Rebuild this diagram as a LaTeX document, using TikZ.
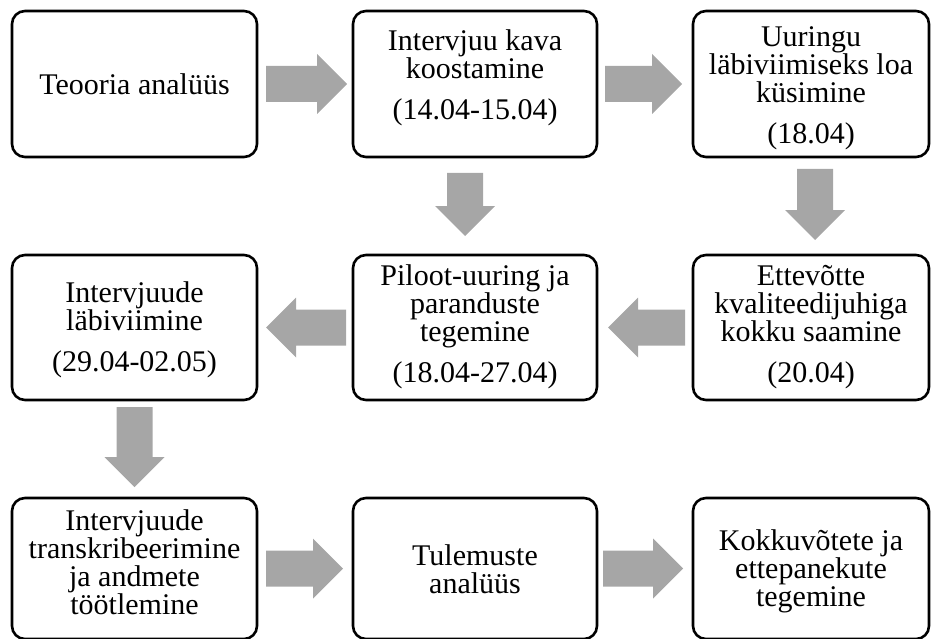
\documentclass[tikz,border=0pt]{standalone}
\usepackage{fontspec}
\setmainfont{Liberation Serif}
\usetikzlibrary{calc}
\definecolor{arrowgray}{RGB}{166,166,166}

% Block arrow from #1 to #2 (named coordinates): shaft half-width 18pt,
% head half-width 30pt, head length 30pt
\newcommand\blockarrow[2]{%
  \fill[arrowgray]
    ($(#1)!18pt!90:(#2)$) --
    ($(#2)!30pt!(#1)!18pt!90:(#2)$) --
    ($(#2)!30pt!(#1)!30pt!90:(#2)$) --
    (#2) --
    ($(#2)!30pt!(#1)!30pt!-90:(#2)$) --
    ($(#2)!30pt!(#1)!18pt!-90:(#2)$) --
    ($(#1)!18pt!-90:(#2)$) -- cycle;}

\tikzset{
  stagebox/.style={draw=black, line width=2.6pt, rounded corners=13pt,
    fill=white, inner sep=0pt, outer sep=0pt},
  stagetext/.style={align=center, inner sep=0pt, outer sep=0pt,
    font=\fontsize{30}{28}\selectfont, anchor=north},
}

\begin{document}
\begin{tikzpicture}[x=1pt, y=-1pt]
\useasboundingbox (0,0) rectangle (931,639);

% stage boxes
\node[stagebox, minimum width=245pt, minimum height=146pt] (b1) at (134.5,84) {};
\node[stagebox, minimum width=244pt, minimum height=146pt] (b2) at (475,84) {};
\node[stagebox, minimum width=236pt, minimum height=146pt] (b3) at (811,84) {};
\node[stagebox, minimum width=245pt, minimum height=145pt] (b4) at (134.5,327.5) {};
\node[stagebox, minimum width=244pt, minimum height=145pt] (b5) at (475,327.5) {};
\node[stagebox, minimum width=236pt, minimum height=145pt] (b6) at (811,327.5) {};
\node[stagebox, minimum width=245pt, minimum height=141pt] (b7) at (134.5,568.5) {};
\node[stagebox, minimum width=244pt, minimum height=141pt] (b8) at (475,568.5) {};
\node[stagebox, minimum width=236pt, minimum height=141pt] (b9) at (811,568.5) {};

% stage texts
\node[stagetext, anchor=center] (t1) at (b1.center) {Teooria analüüs};
\node[stagetext] (t2) at ($(b2.north)+(0,19)$) {Intervjuu kava\\koostamine\\[13pt](14.04-15.04)};
\node[stagetext] (t3) at ($(b3.north)+(0,16)$) {Uuringu\\läbiviimiseks loa\\küsimine\\[13pt](18.04)};
\node[stagetext] (t4) at ($(b4.north)+(0,27)$) {Intervjuude\\läbiviimine\\[13pt](29.04-02.05)};
\node[stagetext] (t5) at ($(b5.north)+(0,10)$) {Piloot-uuring ja\\paranduste\\tegemine\\[13pt](18.04-27.04)};
\node[stagetext] (t6) at ($(b6.north)+(0,10)$) {Ettevõtte\\kvaliteedijuhiga\\kokku saamine\\[13pt](20.04)};
\node[stagetext] (t7) at ($(b7.north)+(0,12)$) {Intervjuude\\transkribeerimine\\ja andmete\\töötlemine};
\node[stagetext] (t8) at ($(b8.north)+(0,47)$) {Tulemuste\\analüüs};
\node[stagetext] (t9) at ($(b9.north)+(0,32)$) {Kokkuvõtete ja\\ettepanekute\\tegemine};

% arrow end points
\coordinate (a1s) at ([xshift=9pt]b1.east);
\coordinate (a1e) at ([xshift=-6pt]b2.west);
\coordinate (a2s) at ([xshift=8pt]b2.east);
\coordinate (a2e) at ([xshift=-11pt]b3.west);
\coordinate (a3s) at ([shift={(4pt,-12pt)}]b3.south);
\coordinate (a3e) at ([shift={(4pt,15pt)}]b6.north);
\coordinate (a4s) at ([shift={(-10pt,-16pt)}]b2.south);
\coordinate (a4e) at ([shift={(-10pt,19pt)}]b5.north);
\coordinate (a5s) at ([xshift=-8pt]b6.west);
\coordinate (a5e) at ([xshift=11pt]b5.east);
\coordinate (a6s) at ([xshift=-7pt]b5.west);
\coordinate (a6e) at ([xshift=9pt]b4.east);
\coordinate (a7s) at ([yshift=-7pt]b4.south);
\coordinate (a7e) at ([yshift=11pt]b7.north);
\coordinate (a8s) at ([xshift=9pt]b7.east);
\coordinate (a8e) at ([xshift=-10pt]b8.west);
\coordinate (a9s) at ([xshift=6pt]b8.east);
\coordinate (a9e) at ([xshift=-10pt]b9.west);

% block arrows
\blockarrow{a1s}{a1e}
\blockarrow{a2s}{a2e}
\blockarrow{a3s}{a3e}
\blockarrow{a4s}{a4e}
\blockarrow{a5s}{a5e}
\blockarrow{a6s}{a6e}
\blockarrow{a7s}{a7e}
\blockarrow{a8s}{a8e}
\blockarrow{a9s}{a9e}
\end{tikzpicture}
\end{document}
